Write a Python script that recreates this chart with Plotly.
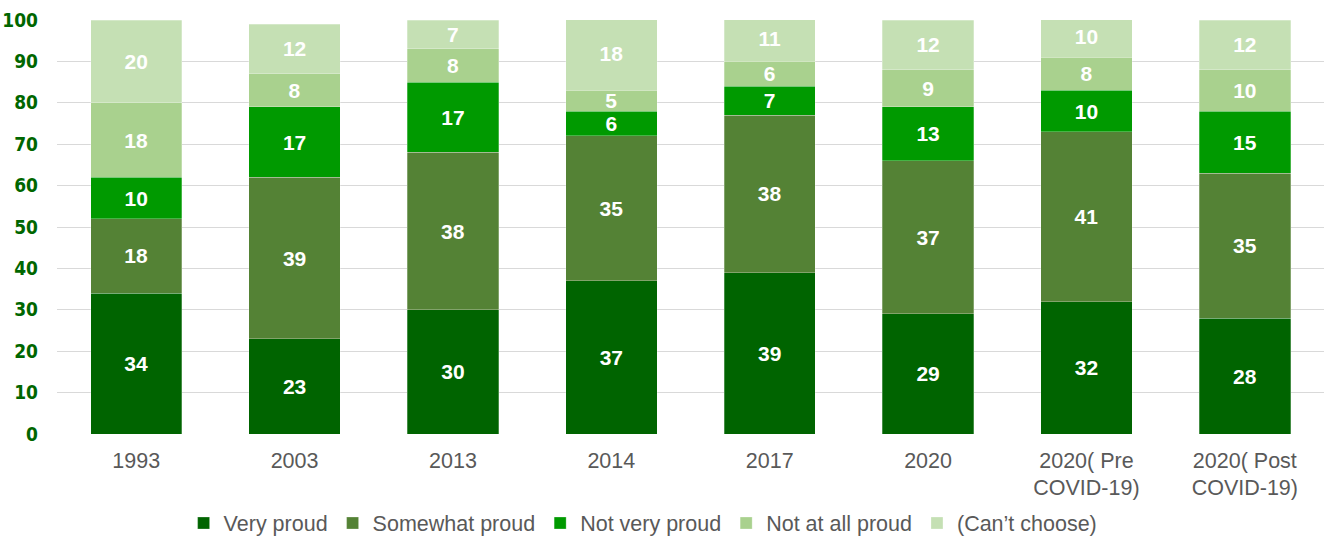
import plotly.graph_objects as go

# Survey waves (x categories)
categories = ["1993", "2003", "2013", "2014", "2017", "2020",
              "2020( Pre<br>COVID-19)", "2020( Post<br>COVID-19)"]

# Share of respondents (%) per answer
very_proud = [34, 23, 30, 37, 39, 29, 32, 28]
somewhat_proud = [18, 39, 38, 35, 38, 37, 41, 35]
not_very_proud = [10, 17, 17, 6, 7, 13, 10, 15]
not_at_all_proud = [18, 8, 8, 5, 6, 9, 8, 10]
cant_choose = [20, 12, 7, 18, 11, 12, 10, 12]

y_ticks = [0, 10, 20, 30, 40, 50, 60, 70, 80, 90, 100]

series = [
    ("Very proud", very_proud, "#006400"),
    ("Somewhat proud", somewhat_proud, "#548235"),
    ("Not very proud", not_very_proud, "#009A00"),
    ("Not at all proud", not_at_all_proud, "#A9D18E"),
    ("(Can’t choose)", cant_choose, "#C5E0B4"),
]

fig = go.Figure()
for name, values, color in series:
    fig.add_trace(go.Bar(
        name=name,
        x=categories,
        y=values,
        marker=dict(color=color, line=dict(color="rgba(255,255,255,0.45)", width=0.6)),
        text=[str(v) for v in values],
        textposition="inside",
        insidetextanchor="middle",
        textangle=0,
        constraintext="none",
        textfont=dict(family="Liberation Sans, Arial, sans-serif", size=21,
                      color="white", weight="bold"),
        hoverinfo="skip",
    ))

fig.update_layout(
    barmode="stack",
    bargap=0.423,
    width=1326,
    height=537,
    margin=dict(l=57, r=2, t=20, b=103),
    paper_bgcolor="white",
    plot_bgcolor="white",
    font=dict(family="Liberation Sans, Arial, sans-serif", color="#595959"),
    legend=dict(
        orientation="h",
        xref="container",
        yref="container",
        x=0.485,
        xanchor="center",
        y=0.026,
        yanchor="middle",
        font=dict(size=21.5, color="#595959"),
        traceorder="normal",
        itemclick=False,
    ),
    showlegend=True,
)

fig.update_xaxes(
    showgrid=False,
    showline=False,
    zeroline=False,
    automargin=False,
    tickfont=dict(size=21.5, color="#595959"),
    ticklabelstandoff=11,
)

fig.update_yaxes(
    range=[0, 100],
    tickvals=y_ticks,
    showgrid=True,
    gridcolor="#D9D9D9",
    gridwidth=1.3,
    zeroline=False,
    showline=False,
    automargin=False,
    tickfont=dict(family="Liberation Sans Narrow, DejaVu Sans Condensed, Liberation Sans, sans-serif",
                  size=19, color="#006600", weight="bold"),
    ticklabelstandoff=18,
)

fig.write_html("out.html")
